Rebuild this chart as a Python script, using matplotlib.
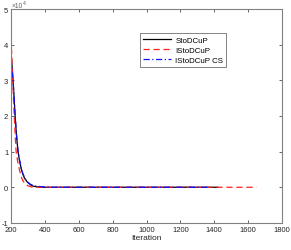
import matplotlib
matplotlib.use("Agg")
import matplotlib.pyplot as plt

plt.rcParams['font.family'] = ['Liberation Sans', 'DejaVu Sans']

# StoDCuP (black solid)
it_sto = [200, 206, 212, 218, 224, 232, 241, 250, 260, 270, 280, 295, 312, 325, 340, 370, 400, 1420]
val_sto = [3.75, 3.4, 3.0, 2.5, 2.0, 1.45, 1.0, 0.75, 0.52, 0.36, 0.25, 0.15, 0.08, 0.04, 0.02, 0.005, 0.0, 0.0]

# IStoDCuP (red dashed)
it_isto = [200, 205, 210, 215, 220, 225, 230, 240, 250, 260, 270, 285, 300, 320, 340, 1650]
val_isto = [4.2, 3.6, 3.0, 2.4, 1.9, 1.4, 1.0, 0.7, 0.48, 0.3, 0.18, 0.09, 0.04, 0.01, 0.0, 0.0]

# IStoDCuP CS (blue dash-dot)
it_cs = [200, 206, 212, 218, 224, 232, 241, 250, 260, 270, 280, 295, 312, 330, 350, 380, 420, 1375]
val_cs = [3.6, 3.3, 2.95, 2.5, 2.0, 1.5, 1.02, 0.77, 0.54, 0.38, 0.27, 0.16, 0.09, 0.05, 0.03, 0.015, 0.0, 0.0]

fig = plt.figure(figsize=(2.91, 2.51), dpi=100)
ax = fig.add_axes([0.038, 0.108, 0.931, 0.852])

ax.plot(it_sto, [v * 1e4 for v in val_sto], color='black', lw=0.9, label='StoDCuP')
ax.plot(it_isto, [v * 1e4 for v in val_isto], color='#ff2020', lw=0.9, ls=(0, (5, 3)), label='IStoDCuP')
ax.plot(it_cs, [v * 1e4 for v in val_cs], color='#1010ff', lw=0.9, ls=(0, (5, 2, 1, 2)), label='IStoDCuP CS')

ax.set_xlim(200, 1800)
ax.set_ylim(-1e4, 5e4)
ax.set_xticks(range(200, 1801, 200))
ax.set_yticks([-1e4, 0, 1e4, 2e4, 3e4, 4e4, 5e4])
ax.set_yticklabels(['-1', '0', '1', '2', '3', '4', '5'])
ax.tick_params(direction='in', length=2.5, width=0.5, labelsize=5.5, colors='#262626',
               top=True, right=True, pad=2)
for s in ax.spines.values():
    s.set_color('#808080')
    s.set_linewidth(0.8)

ax.text(0.0, 1.0, '×10', transform=ax.transAxes, fontsize=4.8, color='#606060',
        ha='left', va='bottom')
ax.text(0.044, 1.02, '4', transform=ax.transAxes, fontsize=3.8, color='#606060',
        ha='left', va='bottom')
ax.set_xlabel('Iteration', fontsize=6, labelpad=1, color='#262626')

leg = ax.legend(loc='upper left', bbox_to_anchor=(0.46, 0.905), fontsize=5.7, frameon=True,
                fancybox=False, edgecolor='#262626', handlelength=3.5, borderpad=0.4,
                labelspacing=0.3, handletextpad=0.6)
leg.get_frame().set_linewidth(0.5)

fig.savefig('out.png', dpi=100)
